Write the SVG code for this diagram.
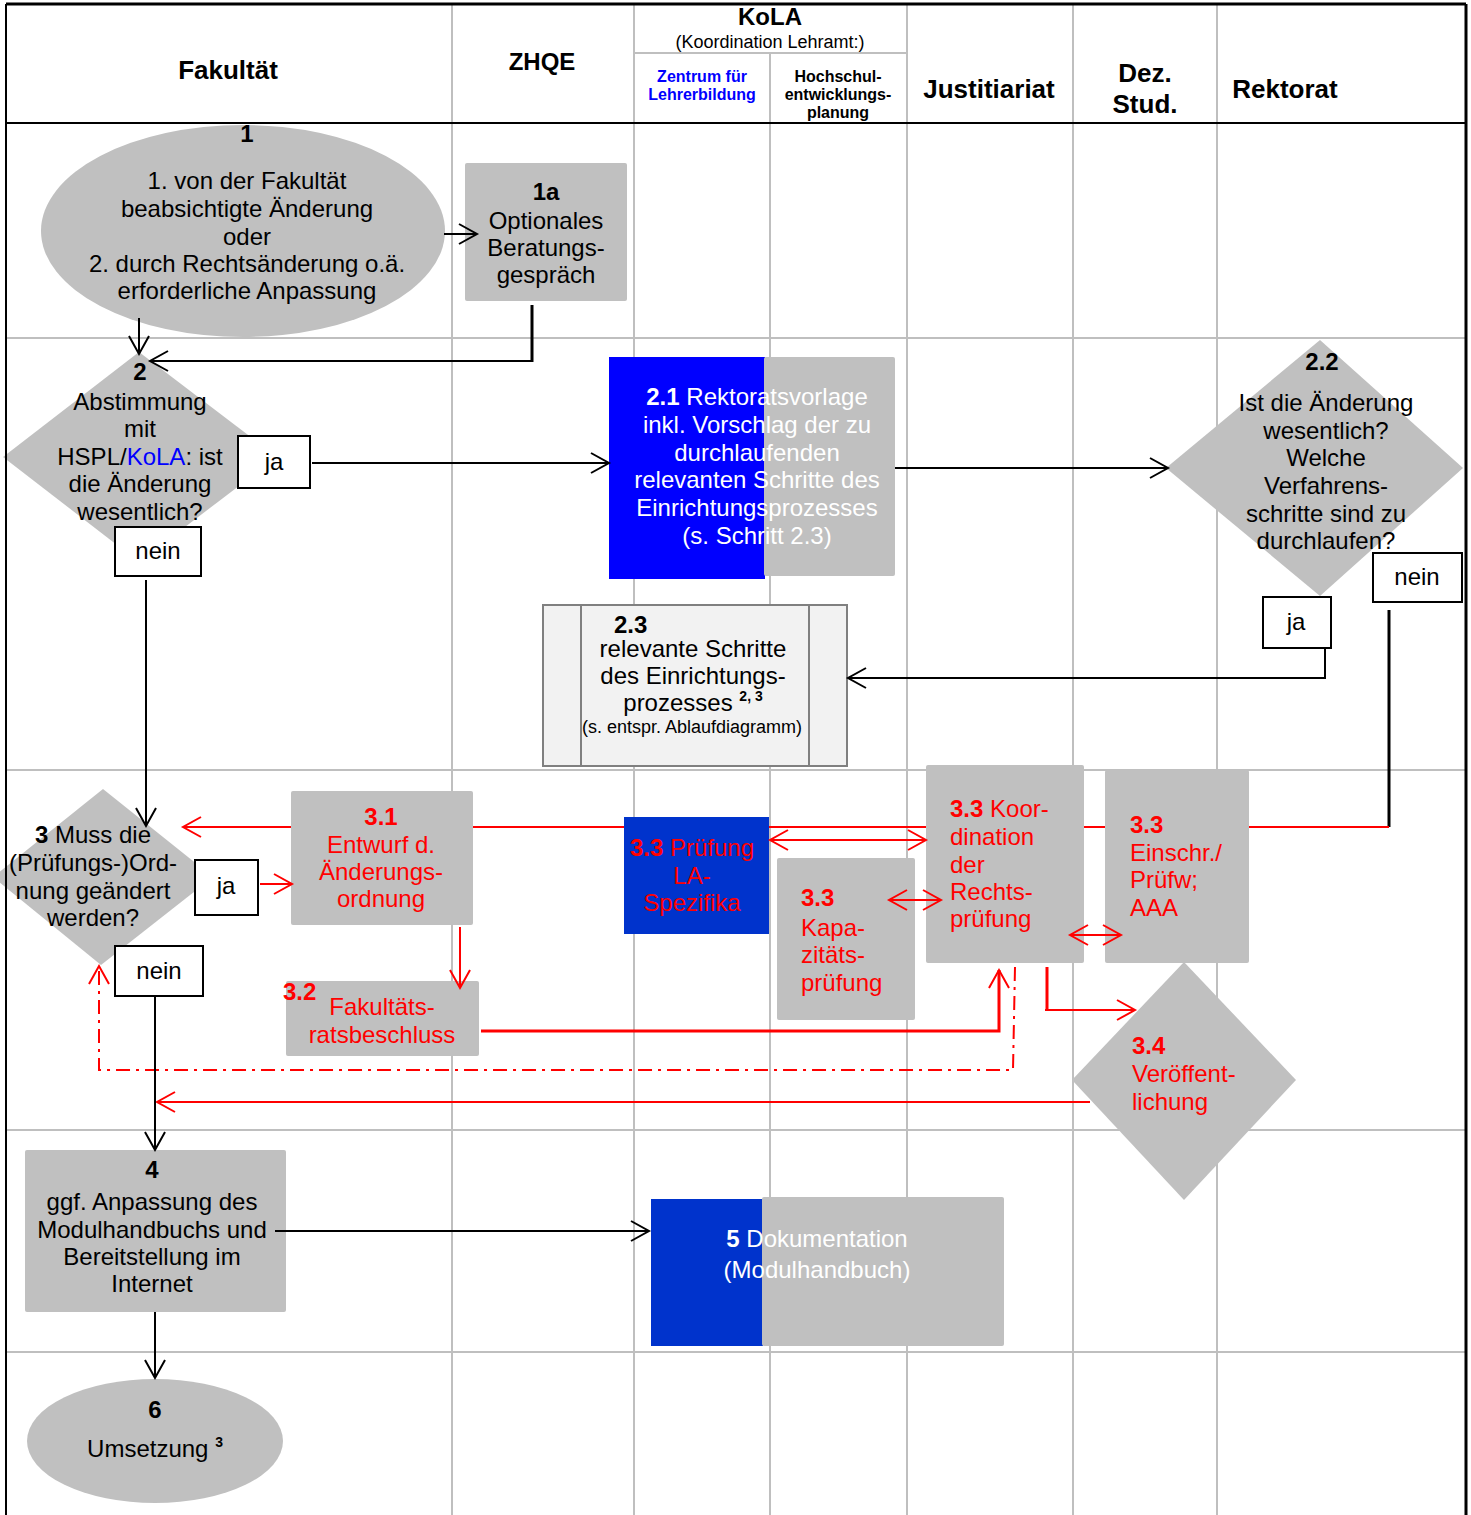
<svg xmlns="http://www.w3.org/2000/svg" width="1471" height="1515" viewBox="0 0 1471 1515">
<style>
text{font-family:"Liberation Sans",Arial,sans-serif;font-size:24px;fill:#000}
.b{font-weight:bold}
.h{font-weight:bold;font-size:26px}
.hs{font-weight:bold;font-size:16px}
.c{text-anchor:middle}
.r{fill:#ff0000}
.w{fill:#ffffff}
.sup{font-size:14px;font-weight:bold}
.grid{stroke:#bfbfbf;stroke-width:2;fill:none}
.frame{stroke:#000;fill:none}
.g{fill:#c0c0c0}
.lbl{fill:#fff;stroke:#000;stroke-width:2}
.k{stroke:#000;stroke-width:2;fill:none}
.rd{stroke:#ff0000;stroke-width:2;fill:none}
</style>
<defs>
<marker id="ak" viewBox="-21 -12 24 24" markerWidth="24" markerHeight="24" refX="0" refY="0" orient="auto-start-reverse" markerUnits="userSpaceOnUse" overflow="visible"><path d="M-18,-10 L0,0 L-18,10" fill="none" stroke="#000" stroke-width="2"/></marker>
<marker id="ar" viewBox="-21 -12 24 24" markerWidth="24" markerHeight="24" refX="0" refY="0" orient="auto-start-reverse" markerUnits="userSpaceOnUse" overflow="visible"><path d="M-18,-10 L0,0 L-18,10" fill="none" stroke="#ff0000" stroke-width="2"/></marker>
</defs>
<rect x="0" y="0" width="1471" height="1515" fill="#fff"/>
<g id="grid">
<path class="grid" d="M452,4V1515 M634,4V1515 M770,53V1515 M907,4V1515 M1073,4V1515 M1217,4V1515 M634,53H907 M6,338H1466 M6,770H1466 M6,1130H1466 M6,1352H1466"/>
</g>
<g id="header">
<text class="h c" x="228" y="79">Fakultät</text>
<text class="b c" x="542" y="70">ZHQE</text>
<text class="b c" x="770" y="25">KoLA</text>
<text class="c" x="770" y="48" style="font-size:18px">(Koordination Lehramt:)</text>
<text class="hs c" x="702" y="82" fill="#0000ff" style="fill:#0000ff">Zentrum für</text>
<text class="hs c" x="702" y="100" style="fill:#0000ff">Lehrerbildung</text>
<text class="hs c" x="838" y="82">Hochschul-</text>
<text class="hs c" x="838" y="100">entwicklungs-</text>
<text class="hs c" x="838" y="118">planung</text>
<text class="h c" x="989" y="98">Justitiariat</text>
<text class="h c" x="1145" y="82">Dez.</text>
<text class="h c" x="1145" y="113">Stud.</text>
<text class="h c" x="1285" y="98">Rektorat</text>
</g>
<g id="n1">
<ellipse class="g" cx="243" cy="231" rx="202" ry="106"/>
<text class="b c" x="247" y="142">1</text>
<text class="c" x="247" y="189">1. von der Fakultät</text>
<text class="c" x="247" y="217">beabsichtigte Änderung</text>
<text class="c" x="247" y="245">oder</text>
<text class="c" x="247" y="272">2. durch Rechtsänderung o.ä.</text>
<text class="c" x="247" y="299">erforderliche Anpassung</text>
</g>
<g id="n1a">
<rect class="g" x="465" y="163" width="162" height="138" rx="2"/>
<text class="b c" x="546" y="200">1a</text>
<text class="c" x="546" y="229">Optionales</text>
<text class="c" x="546" y="256">Beratungs-</text>
<text class="c" x="546" y="283">gespräch</text>
</g>
<g id="n2">
<polygon class="g" points="139,352 277,457 139,562 3,457"/>
<text class="b c" x="140" y="380">2</text>
<text class="c" x="140" y="410">Abstimmung</text>
<text class="c" x="140" y="437">mit</text>
<text class="c" x="140" y="465">HSPL/<tspan style="fill:#0000ff">KoLA</tspan>: ist</text>
<text class="c" x="140" y="492">die Änderung</text>
<text class="c" x="140" y="520">wesentlich?</text>
<rect class="lbl" x="238" y="436" width="72" height="52"/>
<text class="c" x="274" y="470">ja</text>
<rect class="lbl" x="115" y="527" width="86" height="49"/>
<text class="c" x="158" y="559">nein</text>
</g>
<g id="n2_1">
<rect x="609" y="357" width="156" height="222" fill="#0000ff"/>
<rect class="g" x="764" y="357" width="131" height="219" rx="2"/>
<text class="c w" x="757" y="405"><tspan class="b">2.1</tspan> Rektoratsvorlage</text>
<text class="c w" x="757" y="433">inkl. Vorschlag der zu</text>
<text class="c w" x="757" y="461">durchlaufenden</text>
<text class="c w" x="757" y="488">relevanten Schritte des</text>
<text class="c w" x="757" y="516">Einrichtungsprozesses</text>
<text class="c w" x="757" y="544">(s. Schritt 2.3)</text>
</g>
<g id="n2_2">
<polygon class="g" points="1320,340 1463,468 1320,596 1166,468"/>
<text class="b c" x="1322" y="370">2.2</text>
<text class="c" x="1326" y="411">Ist die Änderung</text>
<text class="c" x="1326" y="439">wesentlich?</text>
<text class="c" x="1326" y="466">Welche</text>
<text class="c" x="1326" y="494">Verfahrens-</text>
<text class="c" x="1326" y="522">schritte sind zu</text>
<text class="c" x="1326" y="549">durchlaufen?</text>
<rect class="lbl" x="1373" y="553" width="89" height="49"/>
<text class="c" x="1417" y="585">nein</text>
<rect class="lbl" x="1263" y="597" width="68" height="51"/>
<text class="c" x="1296" y="630">ja</text>
</g>
<g id="n2_3">
<rect x="543" y="605" width="304" height="161" fill="#f2f2f2" stroke="#808080" stroke-width="2"/>
<path d="M581,605V766 M809,605V766" stroke="#808080" stroke-width="2"/>
<text class="b" x="614" y="633">2.3</text>
<text class="c" x="693" y="657">relevante Schritte</text>
<text class="c" x="693" y="684">des Einrichtungs-</text>
<text class="c" x="693" y="711">prozesses <tspan class="sup" dy="-10">2, 3</tspan></text>
<text class="c" x="692" y="733" style="font-size:18px">(s. entspr. Ablaufdiagramm)</text>
</g>
<g id="n3">
<polygon class="g" points="103,789 213,877 101,965 -7,877"/>
<text class="c" x="93" y="843"><tspan class="b">3</tspan> Muss die</text>
<text class="c" x="93" y="871">(Prüfungs-)Ord-</text>
<text class="c" x="93" y="899">nung geändert</text>
<text class="c" x="93" y="926">werden?</text>
<rect class="lbl" x="195" y="860" width="63" height="55"/>
<text class="c" x="226" y="894">ja</text>
<rect class="lbl" x="115" y="946" width="88" height="50"/>
<text class="c" x="159" y="979">nein</text>
</g>
<g id="n3_1">
<rect class="g" x="291" y="791" width="182" height="134" rx="2"/>
<text class="b c r" x="381" y="825">3.1</text>
<text class="c r" x="381" y="853">Entwurf d.</text>
<text class="c r" x="381" y="880">Änderungs-</text>
<text class="c r" x="381" y="907">ordnung</text>
</g>
<g id="n3_2">
<rect class="g" x="286" y="981" width="193" height="75" rx="2"/>
<text class="b r" x="283" y="1000">3.2</text>
<text class="c r" x="382" y="1015">Fakultäts-</text>
<text class="c r" x="382" y="1043">ratsbeschluss</text>
</g>
<g id="n3_3a">
<rect x="624" y="817" width="145" height="117" fill="#0033cc"/>
<text class="c r" x="692" y="856"><tspan class="b">3.3</tspan> Prüfung</text>
<text class="c r" x="692" y="884">LA-</text>
<text class="c r" x="692" y="911">Spezifika</text>
</g>
<g id="n3_3b">
<rect class="g" x="777" y="858" width="138" height="162" rx="2"/>
<text class="b r" x="801" y="906">3.3</text>
<text class="r" x="801" y="936">Kapa-</text>
<text class="r" x="801" y="963">zitäts-</text>
<text class="r" x="801" y="991">prüfung</text>
</g>
<g id="n3_3c">
<rect class="g" x="926" y="765" width="158" height="198" rx="2"/>
<text class="r" x="950" y="817"><tspan class="b">3.3</tspan> Koor-</text>
<text class="r" x="950" y="845">dination</text>
<text class="r" x="950" y="873">der</text>
<text class="r" x="950" y="900">Rechts-</text>
<text class="r" x="950" y="927">prüfung</text>
</g>
<g id="n3_3d">
<rect class="g" x="1105" y="770" width="144" height="193" rx="2"/>
<text class="b r" x="1130" y="833">3.3</text>
<text class="r" x="1130" y="861">Einschr./</text>
<text class="r" x="1130" y="888">Prüfw;</text>
<text class="r" x="1130" y="916">AAA</text>
</g>
<g id="n3_4">
<polygon class="g" points="1184,962 1296,1080 1184,1200 1072,1080"/>
<text class="b r" x="1132" y="1054">3.4</text>
<text class="r" x="1132" y="1082">Veröffent-</text>
<text class="r" x="1132" y="1110">lichung</text>
</g>
<g id="n4">
<rect class="g" x="25" y="1150" width="261" height="162" rx="2"/>
<text class="b c" x="152" y="1178">4</text>
<text class="c" x="152" y="1210">ggf. Anpassung des</text>
<text class="c" x="152" y="1238">Modulhandbuchs und</text>
<text class="c" x="152" y="1265">Bereitstellung im</text>
<text class="c" x="152" y="1292">Internet</text>
</g>
<g id="n5">
<rect x="651" y="1199" width="112" height="147" fill="#0033cc"/>
<rect class="g" x="762" y="1197" width="242" height="149" rx="2"/>
<text class="c w" x="817" y="1247"><tspan class="b">5</tspan> Dokumentation</text>
<text class="c w" x="817" y="1278">(Modulhandbuch)</text>
</g>
<g id="n6">
<ellipse class="g" cx="155" cy="1441" rx="128" ry="62"/>
<text class="b c" x="155" y="1418">6</text>
<text class="c" x="155" y="1457">Umsetzung <tspan class="sup" dy="-10">3</tspan></text>
</g>
<g id="connectors">
<path class="k" d="M444,234H477" marker-end="url(#ak)"/>
<path class="k" d="M532,305V362" style="stroke-width:3"/>
<path class="k" d="M532,361H150" marker-end="url(#ak)"/>
<path class="k" d="M139,318V354" marker-end="url(#ak)"/>
<path class="k" d="M312,463H609" marker-end="url(#ak)"/>
<path class="k" d="M146,580V826" marker-end="url(#ak)"/>
<path class="k" d="M895,468H1168" marker-end="url(#ak)"/>
<path class="k" d="M1325,648V678H848" marker-end="url(#ak)"/>
<path class="k" d="M1389,610V827" style="stroke-width:3"/>
<path class="rd" d="M1389,827H1249 M1105,827H1084 M926,827H769 M624,827H473 M291,827H183" marker-end="url(#ar)"/>
<path class="rd" d="M260,884H292" marker-end="url(#ar)"/>
<path class="rd" d="M460,927V988" marker-end="url(#ar)"/>
<path class="rd" d="M770,840H926" marker-start="url(#ar)" marker-end="url(#ar)"/>
<path class="rd" d="M889,900H941" marker-start="url(#ar)" marker-end="url(#ar)"/>
<path class="rd" d="M1070,935H1121" marker-start="url(#ar)" marker-end="url(#ar)"/>
<path class="rd" d="M481,1031H999V970" style="stroke-width:3" marker-end="url(#ar)"/>
<path class="rd" d="M1015,967L1013,1070H99V966" style="stroke-dasharray:14 6 3 6" marker-end="url(#ar)"/>
<path class="rd" d="M1047,967V1011" style="stroke-width:3"/>
<path class="rd" d="M1045,1010H1135" marker-end="url(#ar)"/>
<path class="rd" d="M1090,1102H157" marker-end="url(#ar)"/>
<path class="k" d="M155,997V1150" marker-end="url(#ak)"/>
<path class="k" d="M275,1231H649" marker-end="url(#ak)"/>
<path class="k" d="M155,1312V1378" marker-end="url(#ak)"/>
</g>
<g id="frame">
<path class="frame" d="M6,4H1466" stroke-width="3"/>
<path class="frame" d="M6,4V1515" stroke-width="2"/>
<path class="frame" d="M1466,4V1515" stroke-width="3"/>
<path class="frame" d="M6,123H1466" stroke-width="2"/>
</g>
</svg>
